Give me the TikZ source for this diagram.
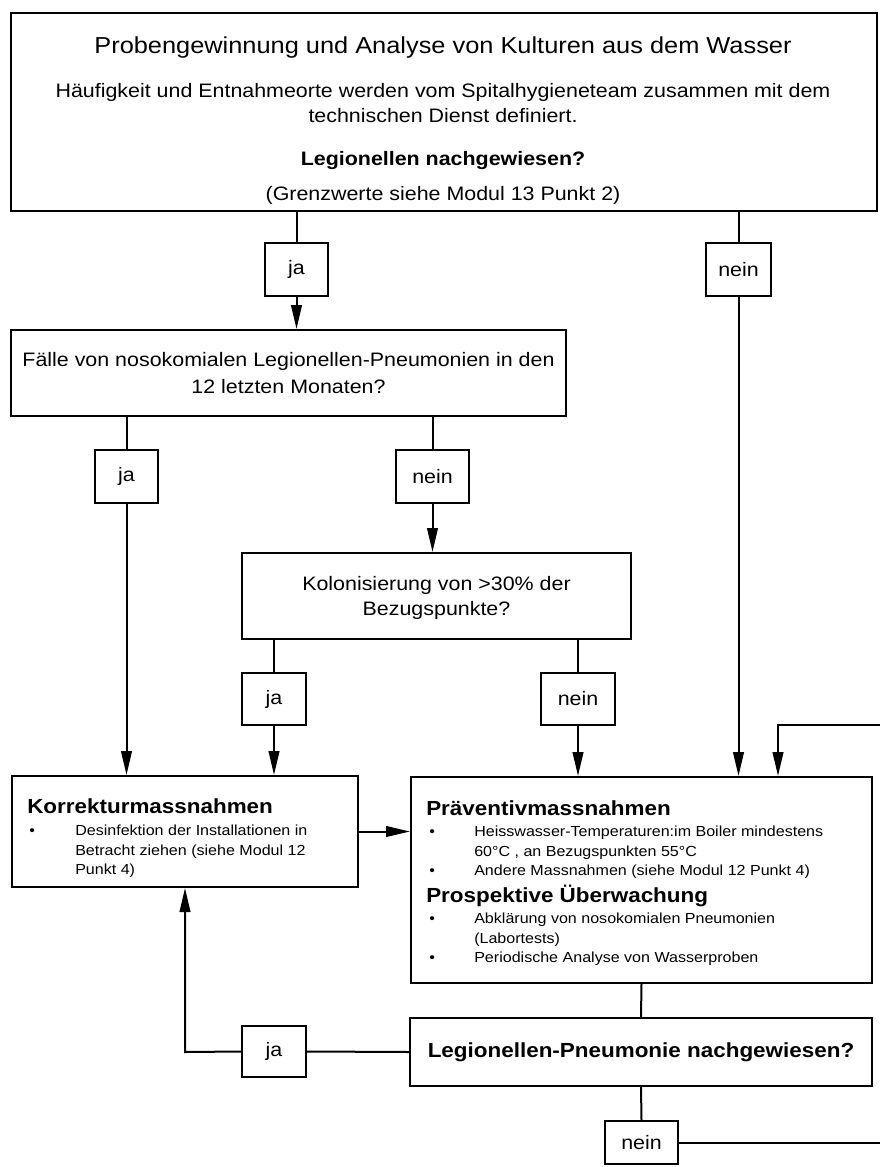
\documentclass[tikz,border=0pt]{standalone}
\usepackage{fontspec}
\setmainfont{Liberation Sans}[FakeStretch=1.1]
\usetikzlibrary{fit,arrows.meta}
\newcommand{\ftitle}{\fontsize{17.3pt}{20pt}\selectfont}
\newcommand{\fbody}{\fontsize{14.6pt}{18pt}\selectfont}
\newcommand{\fhead}{\fontsize{15.3pt}{18pt}\selectfont\bfseries}
\newcommand{\fsmall}{\fontsize{10.95pt}{14pt}\selectfont}
\begin{document}
\begin{tikzpicture}[x=0.75pt,y=-0.75pt,
  box/.style={draw, line width=1.5pt, inner sep=0pt, rectangle},
  txt/.style={inner sep=0pt, anchor=base, font=\fbody},
  txl/.style={inner sep=0pt, anchor=base west, font=\fsmall},
  hd/.style={inner sep=0pt, anchor=base west, font=\fhead},
  conn/.style={line width=1.5pt},
  arr/.style={conn, -{Triangle[length=18pt,width=8pt]}},
  yn/.style={box, font=\fbody, minimum height=39.75pt, minimum width=#1},
  yn/.default=47.25pt]
\useasboundingbox (0,0) rectangle (880,1167);

% ---- top box
\node[box, fit={(11,13) (877,211)}] (top) {};
\node[txt, font=\ftitle] (t1) at (443,53) {Probengewinnung und Analyse von Kulturen aus dem Wasser};
\node[txt] (t2) at (443,97) {Häufigkeit und Entnahmeorte werden vom Spitalhygieneteam zusammen mit dem};
\node[txt] (t3) at (443,122) {technischen Dienst definiert.};
\node[txt, font=\fbody\bfseries] (t4) at (443,165) {Legionellen nachgewiesen?};
\node[txt] (t5) at (443,200) {(Grenzwerte siehe Modul 13 Punkt 2)};

\node[yn=47.25pt] (jaA) at (296.5,269.5) {ja};
\node[yn=48.75pt] (neinA) at (738.5,269.5) {nein};

% ---- second box
\node[box, fit={(11,330) (566,416)}] (fall) {};
\node[txt] (f1) at (288.5,366) {Fälle von nosokomialen Legionellen-Pneumonien in den};
\node[txt] (f2) at (288.5,393) {12 letzten Monaten?};

\node[yn=47.25pt] (jaB) at (126.5,476.5) {ja};
\node[yn=54.75pt] (neinB) at (432.5,476.5) {nein};

% ---- third box
\node[box, fit={(242,553) (631,639)}] (kolo) {};
\node[txt] (k1) at (436.5,590) {Kolonisierung von >30\% der};
\node[txt] (k2) at (436.5,615) {Bezugspunkte?};

\node[yn=48pt, minimum height=39pt] (jaC) at (274,699) {ja};
\node[yn=55.5pt, minimum height=39pt] (neinC) at (578,699) {nein};

% ---- Korrekturmassnahmen
\node[box, fit={(12,776) (358,887)}] (korr) {};
\node[hd] (kh) at (27,813) {Korrekturmassnahmen};
\node[txl] (kb1) at (29,835) {•};
\node[txl] (kl1) at (75,835) {Desinfektion der Installationen in};
\node[txl] (kl2) at (75,855) {Betracht ziehen (siehe Modul 12};
\node[txl] (kl3) at (75,874) {Punkt 4)};

% ---- Praeventivmassnahmen
\node[box, fit={(411,777) (872,983)}] (prae) {};
\node[hd] (ph1) at (426,815) {Präventivmassnahmen};
\node[txl] (pb1) at (429,836) {•};
\node[txl] (pl1) at (474,836) {Heisswasser-Temperaturen:im Boiler mindestens};
\node[txl] (pl2) at (474,856) {60°C , an Bezugspunkten 55°C};
\node[txl] (pb2) at (429,875) {•};
\node[txl] (pl3) at (474,875) {Andere Massnahmen (siehe Modul 12 Punkt 4)};
\node[hd] (ph2) at (426,902) {Prospektive Überwachung};
\node[txl] (pb3) at (429,923) {•};
\node[txl] (pl4) at (474,923) {Abklärung von nosokomialen Pneumonien};
\node[txl] (pl5) at (474,943) {(Labortests)};
\node[txl] (pb4) at (429,962) {•};
\node[txl] (pl6) at (474,962) {Periodische Analyse von Wasserproben};

% ---- Legionellen-Pneumonie
\node[box, minimum width=346.5pt, minimum height=51pt, font=\fhead] (legp) at (641,1052) {\raisebox{-3pt}{Legionellen-Pneumonie nachgewiesen?}};
\node[yn=48pt, minimum height=38.25pt] (jaD) at (274,1051.5) {ja};
\node[yn=54.75pt, minimum height=32.25pt] (neinD) at (641.5,1142.5) {nein};

% ---- helper coordinates
\coordinate (loopR) at (880,725);
\coordinate (loopC) at (778,725);
\coordinate (jaDL) at (185,1052);

% ---- connectors
\draw[conn] (top.south -| jaA.north) -- (jaA.north);
\draw[arr] (jaA.south) -- (jaA.south |- fall.north);
\draw[conn] (top.south -| neinA.north) -- (neinA.north);
\draw[arr] (neinA.south) -- (neinA.south |- prae.north);

\draw[conn] (fall.south -| jaB.north) -- (jaB.north);
\draw[arr] (jaB.south) -- (jaB.south |- korr.north);
\draw[conn] (fall.south -| neinB.north) -- (neinB.north);
\draw[arr] (neinB.south) -- (neinB.south |- kolo.north);

\draw[conn] (kolo.south -| jaC.north) -- (jaC.north);
\draw[arr] (jaC.south) -- (jaC.south |- korr.north);
\draw[conn] (kolo.south -| neinC.north) -- (neinC.north);
\draw[arr] (neinC.south) -- (neinC.south |- prae.north);

\draw[arr] (korr.east) -- (korr.east -| prae.west);
\draw[arr] (loopR) -- (loopC) -- (loopC |- prae.north);

\draw[conn] (prae.south) -- (legp.north);
\draw[conn] (legp.west) -- (jaD.east);
\draw[arr] (jaD.west) -- (jaDL) -- (jaDL |- korr.south);
\draw[conn] (legp.south) -- (neinD.north);
\draw[conn] (neinD.east) -- (neinD.east -| loopR);
\end{tikzpicture}
\end{document}
